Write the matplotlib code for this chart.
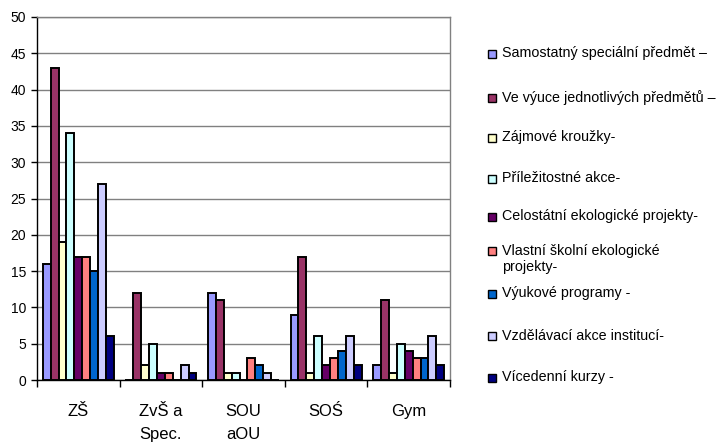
import matplotlib
matplotlib.use("Agg")
import matplotlib.pyplot as plt
from matplotlib.patches import Rectangle
import numpy as np

plt.rcParams['font.family'] = ['Liberation Sans', 'DejaVu Sans']

categories = ["ZŠ", "ZvŠ a\nSpec.", "SOU\naOU", "SOŚ", "Gym"]
series_names = [
    "Samostatný speciální předmět –",
    "Ve výuce jednotlivých předmětů –",
    "Zájmové kroužky-",
    "Příležitostné akce-",
    "Celostátní ekologické projekty-",
    "Vlastní školní ekologické\nprojekty-",
    "Výukové programy -",
    "Vzdělávací akce institucí-",
    "Vícedenní kurzy -",
]
samostatny = [16, 0, 12, 9, 2]
ve_vyuce = [43, 12, 11, 17, 11]
zajmove = [19, 2, 1, 1, 1]
prilezitostne = [34, 5, 1, 6, 5]
celostatni = [17, 1, 0, 2, 4]
vlastni = [17, 1, 3, 3, 3]
vyukove = [15, 0, 2, 4, 3]
vzdelavaci = [27, 2, 1, 6, 6]
vicedenni = [6, 1, 0, 2, 2]
yticks = [0, 5, 10, 15, 20, 25, 30, 35, 40, 45, 50]

series_values = [samostatny, ve_vyuce, zajmove, prilezitostne, celostatni,
                 vlastni, vyukove, vzdelavaci, vicedenni]
colors = ["#9999FF", "#993366", "#FFFFCC", "#CCFFFF", "#660066",
          "#FF8080", "#0066CC", "#CCCCFF", "#000080"]

W, H = 724, 443
fig = plt.figure(figsize=(W / 100, H / 100), dpi=100)
ax = fig.add_axes([37 / W, 1 - 380 / H, (450 - 37) / W, (380 - 17) / H])

n = len(series_values)
bw = 0.0955
x = np.arange(len(categories))
for i, (vals, c) in enumerate(zip(series_values, colors)):
    off = (i - (n - 1) / 2) * bw
    ax.bar(x + off, vals, width=bw, color=c, edgecolor="black", linewidth=1.4, zorder=3)

ax.set_xlim(-0.5, len(categories) - 0.5)
ax.set_ylim(0, 50)
ax.set_yticks(yticks)
ax.yaxis.grid(True, color="#808080", linewidth=1.0, zorder=0)
ax.tick_params(axis="y", direction="out", length=4, width=1, labelsize=10, pad=4, colors="black")
ax.set_xticks(np.arange(len(categories) + 1) - 0.5)
ax.set_xticklabels([])
ax.set_xticks(x, minor=True)
ax.set_xticklabels(categories, minor=True, fontsize=12, linespacing=1.7)
ax.tick_params(axis="x", which="minor", length=0, pad=17)
ax.tick_params(axis="x", which="major", direction="out", length=5, width=1)
for s in ["left", "bottom"]:
    ax.spines[s].set_color("black")
    ax.spines[s].set_linewidth(1.0)
for s in ["top", "right"]:
    ax.spines[s].set_color("#808080")
    ax.spines[s].set_linewidth(1.0)

# legend (manual layout)
leg_y = [54, 98, 138, 179, 217, 251, 294, 336, 378]
for name, c, yp in zip(series_names, colors, leg_y):
    fig.add_artist(Rectangle((488 / W, 1 - (yp + 4) / H), 8 / W, 8 / H,
                             transform=fig.transFigure, facecolor=c,
                             edgecolor="black", linewidth=1.0))
    fig.text(502 / W, 1 - (yp - 7.5) / H, name, fontsize=10.3, va="top", ha="left",
             linespacing=1.25)

fig.savefig("out.png", dpi=100)
